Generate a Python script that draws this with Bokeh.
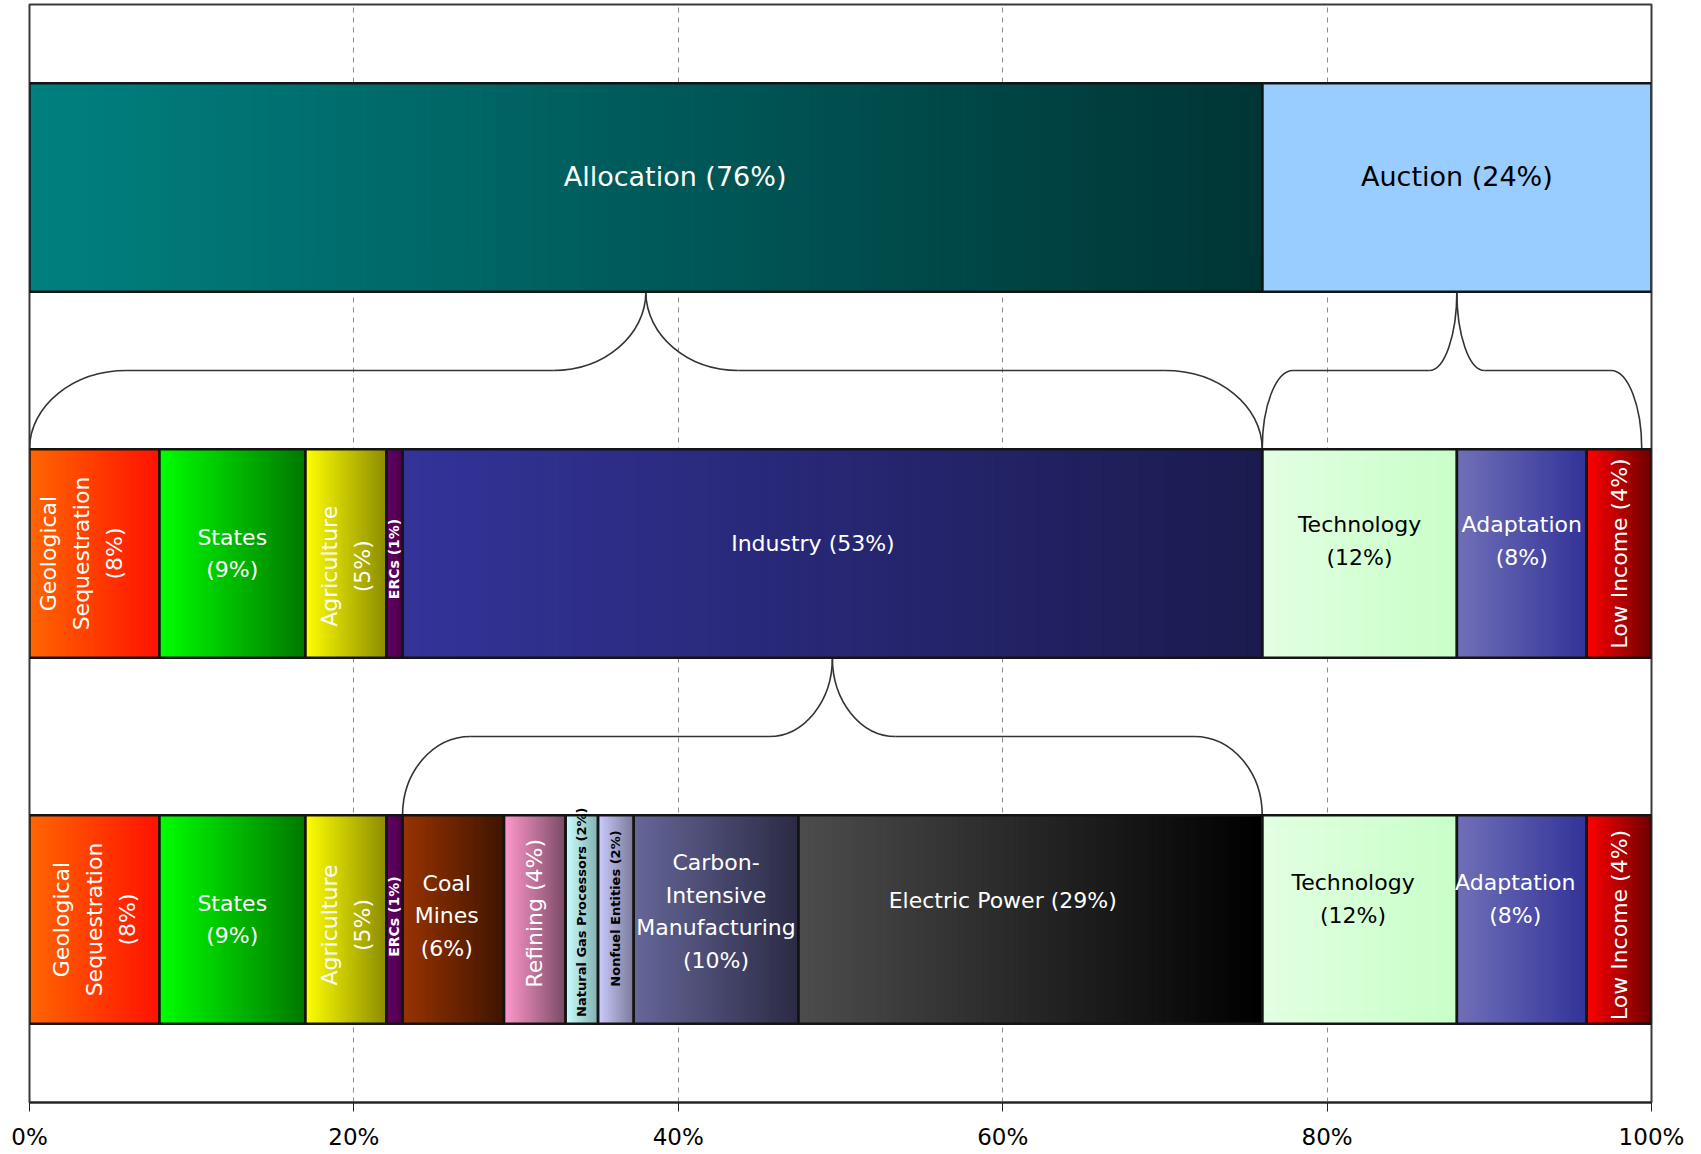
import numpy as np
from bokeh.plotting import figure
from bokeh.models import Range1d, FixedTicker
from bokeh.embed import file_html
from bokeh.resources import INLINE
from bokeh.core.properties import value

# ---------------- DATA ----------------
tick_values = [0, 20, 40, 60, 80, 100]
tick_labels = ["0%", "20%", "40%", "60%", "80%", "100%"]

top_labels = ["Allocation (76%)", "Auction (24%)"]
top_values = [76, 24]

mid_labels = ["Geological\nSequestration\n(8%)", "States\n(9%)", "Agriculture\n(5%)",
              "ERCs (1%)", "Industry (53%)", "Technology\n(12%)", "Adaptation\n(8%)",
              "Low Income (4%)"]
mid_values = [8, 9, 5, 1, 53, 12, 8, 4]

bot_labels = ["Geological\nSequestration\n(8%)", "States\n(9%)", "Agriculture\n(5%)",
              "ERCs (1%)", "Coal\nMines\n(6%)", "Refining (4%)",
              "Natural Gas Processors (2%)", "Nonfuel Entities (2%)",
              "Carbon-\nIntensive\nManufacturing\n(10%)", "Electric Power (29%)",
              "Technology\n(12%)", "Adaptation\n(8%)", "Low Income (4%)"]
bot_values = [8, 9, 5, 1, 6.25, 3.8, 2.0, 2.2, 10.15, 28.6, 12, 8, 4]

row_y = [2.5, 1.5, 0.5]          # top, middle, bottom rows
rows_labels = [top_labels, mid_labels, bot_labels]
rows_values = [top_values, mid_values, bot_values]

# brace: (parent row, parent index, child row, first child, last child)
braces = [(0, 0, 1, 0, 4), (0, 1, 1, 5, 7), (1, 4, 2, 4, 9)]

# ---------------- STYLE ----------------
grad = {
    "Allocation": ("#008080", "#003535"),
    "Auction": ("#99CCFF", "#99CCFF"),
    "Geological": ("#FF6600", "#FF1200"),
    "States": ("#00FF00", "#007800"),
    "Agriculture": ("#FFFF00", "#8C8C00"),
    "ERCs": ("#660066", "#4A004A"),
    "Industry": ("#333399", "#1B1B4F"),
    "Technology": ("#E2FFE2", "#C8FFC8"),
    "Adaptation": ("#7070B8", "#333399"),
    "Low": ("#FF0000", "#6E0000"),
    "Coal": ("#993300", "#3F1500"),
    "Refining": ("#FF99CC", "#7A4A66"),
    "Natural": ("#CCFFFF", "#80B0B0"),
    "Nonfuel": ("#CCCCFF", "#7A7A99"),
    "Carbon-": ("#666699", "#2B2B45"),
    "Electric": ("#4D4D4D", "#000000"),
}
dark_text = {"Auction", "Technology", "Natural", "Nonfuel"}
rotated = {"Geological", "Agriculture", "ERCs", "Refining", "Natural", "Nonfuel", "Low"}
small_bold = {"ERCs", "Natural", "Nonfuel"}
# label offsets (x in %, y in row units), per row
label_dx = [[1.8, 0], [-0.8, 0, 0, 0, -1.2, 0, 0, 0],
            [0, 0, 0, 0, -0.4, 0, 0, 0, 0, -1.7, -0.4, -0.4, 0]]
label_dy = [[0.03, 0.03], [0, 0, -0.035, -0.015, 0.028, 0.035, 0.035, 0],
            [0, 0, -0.015, 0.008, 0.01, 0.017, 0.02, 0.03, 0.022, 0.052, 0.055, 0.055, -0.015]]
brace_tip_w = [5.7, 1.7, 3.9]
brace_end_w = [6.0, 1.9, 4.2]
brace_inset = [(0, 0), (0, 0.6), (0, 0)]
bar_h = 0.57
FONT = "DejaVu Sans"


def hex_to_rgb(h):
    h = h.lstrip("#")
    return np.array([int(h[i:i + 2], 16) for i in (0, 2, 4)], dtype=float)


def key_of(label):
    return label.split()[0].split("\n")[0]


p = figure(width=1701, height=1154, x_range=Range1d(0, 100), y_range=Range1d(0, 3),
           output_backend="svg", toolbar_location=None, y_axis_location=None,
           min_border_left=29, min_border_right=50, min_border_top=4, min_border_bottom=52)
p.outline_line_color = "#3a3a3a"
p.outline_line_width = 2
p.background_fill_color = "white"
p.border_fill_color = "white"

p.xaxis.ticker = FixedTicker(ticks=tick_values)
p.xaxis.major_label_overrides = {v: t for v, t in zip(tick_values, tick_labels)}
p.xaxis.minor_tick_line_color = None
p.xaxis.major_tick_in = 0
p.xaxis.major_tick_out = 9
p.xaxis.major_tick_line_color = "#222222"
p.xaxis.axis_line_width = 2
p.xaxis.axis_line_color = "#222222"
p.xaxis.major_label_text_font = FONT
p.xaxis.major_label_text_font_size = "23px"
p.xaxis.major_label_text_color = "black"
p.xaxis.major_label_standoff = 12
p.xgrid.ticker = FixedTicker(ticks=tick_values[1:-1])
p.xgrid.grid_line_dash = "5 5"
p.xgrid.grid_line_color = "#8c8c8c"
p.xgrid.grid_line_width = 1
p.ygrid.visible = False

# ---------- compute segment extents ----------
extents = []
for vals in rows_values:
    ends = np.cumsum(vals)
    starts = ends - np.array(vals)
    extents.append((starts, ends))

# ---------- braces (drawn first, behind bars) ----------
k = 0.5523
for bi, (pr, pi, cr, c0, c1) in enumerate(braces):
    ps, pe = extents[pr]
    cs, ce = extents[cr]
    xt = (ps[pi] + pe[pi]) / 2.0
    xl = cs[c0] + brace_inset[bi][0]
    xr = ce[c1] - brace_inset[bi][1]
    y_top = row_y[pr] - bar_h / 2
    y_bot = row_y[cr] + bar_h / 2
    y_mid = (row_y[pr] + row_y[cr]) / 2
    w1 = brace_tip_w[bi]
    w2 = brace_end_w[bi]
    x0s, y0s, x1s, y1s, cx0, cy0, cx1, cy1 = [], [], [], [], [], [], [], []
    for sgn in (-1, 1):
        # tip curve
        x0s.append(xt); y0s.append(y_top)
        x1s.append(xt + sgn * w1); y1s.append(y_mid)
        cx0.append(xt); cy0.append(y_top - k * (y_top - y_mid))
        cx1.append(xt + sgn * (1 - k) * w1); cy1.append(y_mid)
        # end curve
        xe = xl if sgn < 0 else xr
        x0s.append(xe - sgn * w2); y0s.append(y_mid)
        x1s.append(xe); y1s.append(y_bot)
        cx0.append(xe - sgn * (1 - k) * w2); cy0.append(y_mid)
        cx1.append(xe); cy1.append(y_bot + k * (y_mid - y_bot))
    p.bezier(x0=x0s, y0=y0s, x1=x1s, y1=y1s, cx0=cx0, cy0=cy0, cx1=cx1, cy1=cy1,
             line_color="#333333", line_width=1.6)
    p.segment(x0=[xl + w2, xt + w1], y0=[y_mid, y_mid], x1=[xt - w1, xr - w2], y1=[y_mid, y_mid],
              line_color="#333333", line_width=1.6)

# ---------- bars with gradient ----------
for r, (labels, vals) in enumerate(zip(rows_labels, rows_values)):
    starts, ends = extents[r]
    yc = row_y[r]
    L, R, C = [], [], []
    for lab, s, e in zip(labels, starts, ends):
        c0h, c1h = grad[key_of(lab)]
        a, b = hex_to_rgb(c0h), hex_to_rgb(c1h)
        n = max(6, int((e - s) / 0.15))
        edges = np.linspace(s, e, n + 1)
        step = (e - s) / n
        for i in range(n):
            t = (i + 0.5) / n
            c = a + (b - a) * t
            L.append(edges[i])
            R.append(min(edges[i + 1] + 0.6 * step, e))
            C.append("#%02x%02x%02x" % tuple(int(round(v)) for v in c))
    p.quad(left=L, right=R, bottom=yc - bar_h / 2, top=yc + bar_h / 2,
           fill_color=C, line_color=None)
    p.quad(left=list(starts), right=list(ends), bottom=yc - bar_h / 2, top=yc + bar_h / 2,
           fill_color=None, line_color="#141414", line_width=2.5)

    # labels
    for j, (lab, s, e) in enumerate(zip(labels, starts, ends)):
        key = key_of(lab)
        x = (s + e) / 2 + label_dx[r][j]
        y = yc + label_dy[r][j]
        if r == 0:
            size = "27px"
        elif key in small_bold:
            size = "13px" if key != "ERCs" else "14px"
        else:
            size = "22px"
        p.text(x=[x], y=[y], text=[lab],
               angle=np.pi / 2 if key in rotated else 0,
               text_color="black" if key in dark_text else "white",
               text_font=value(FONT), text_font_size=size,
               text_font_style="bold" if key in small_bold else "normal",
               text_align="center", text_baseline="middle", text_line_height=1.31)

open("out.html", "w").write(file_html(p, INLINE))
